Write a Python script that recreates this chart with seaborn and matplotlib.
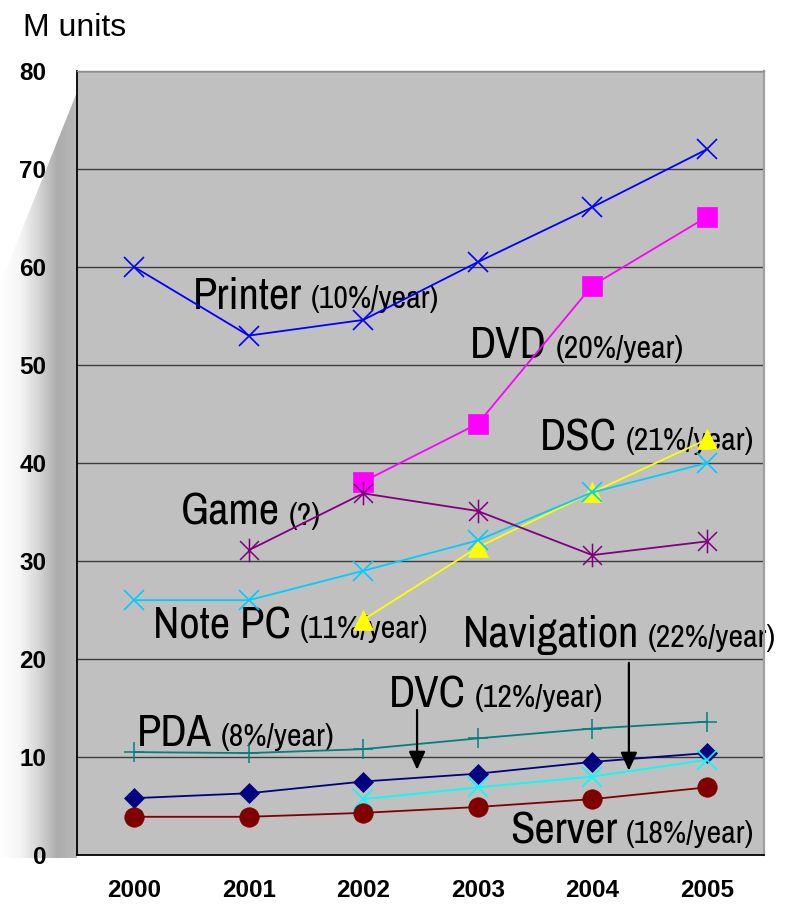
import numpy as np
import pandas as pd
import matplotlib
matplotlib.use("Agg")
import matplotlib.pyplot as plt
import seaborn as sns
from matplotlib.path import Path
from matplotlib.patches import Polygon
from matplotlib.colors import LinearSegmentedColormap
from matplotlib.transforms import offset_copy

# ---- data (million units shipped per year) ----
years = [2000, 2001, 2002, 2003, 2004, 2005]
printer = [60.0, 53.0, 54.6, 60.5, 66.1, 72.0]
dvd = [np.nan, np.nan, 38.1, 44.0, 58.1, 65.1]
dsc = [np.nan, np.nan, 24.0, 31.4, 37.0, 42.4]
note_pc = [26.0, 26.0, 29.0, 32.1, 37.0, 40.0]
game = [np.nan, 31.1, 36.9, 35.1, 30.6, 32.0]
pda = [10.5, 10.4, 10.8, 11.9, 12.9, 13.6]
dvc = [5.8, 6.3, 7.5, 8.3, 9.5, 10.4]
navigation = [np.nan, np.nan, 5.7, 6.9, 8.0, 9.7]
server = [3.9, 3.9, 4.3, 4.9, 5.7, 6.9]

y_ticks = [0, 10, 20, 30, 40, 50, 60, 70, 80]
y_unit = "M units"

sns.set_theme(style="white")
plt.rcParams["font.family"] = ["Liberation Sans", "DejaVu Sans"]
for key in ("text.color", "axes.labelcolor", "xtick.color", "ytick.color"):
    plt.rcParams[key] = "black"

W, H, DPI = 792, 906, 100
fig = plt.figure(figsize=(W / DPI, H / DPI), dpi=DPI, facecolor="white")

# shaded side wall to the left of the value axis
bg = fig.add_axes([0, 0, 1, 1], zorder=-1)
bg.set_xlim(0, W)
bg.set_ylim(H, 0)
bg.axis("off")
wall_cmap = LinearSegmentedColormap.from_list("wall", ["#ffffff", "#f6f6f6", "#d6d6d6", "#acacac", "#bababa"])
grad = np.linspace(0, 1, 256).reshape(1, -1)
im = bg.imshow(grad, cmap=wall_cmap, extent=(0, 77, 858, 92), aspect="auto", interpolation="bilinear")
wall = Polygon([(77, 92), (0, 285), (0, 858), (77, 858)], closed=True, transform=bg.transData)
im.set_clip_path(wall)

ax = fig.add_axes([77 / W, 51 / H, 687 / W, 784 / H], zorder=1)
ax.set_facecolor("#c0c0c0")

# asterisk marker: an X with a vertical bar
asterisk = Path([(-1, -1), (1, 1), (-1, 1), (1, -1), (0, -1.25), (0, 1.25)],
                [Path.MOVETO, Path.LINETO, Path.MOVETO, Path.LINETO, Path.MOVETO, Path.LINETO])

series = [
    (printer, "#0000ff", "x", 14, 1.2),
    (dvd, "#ff00ff", "s", 14, 0.5),
    (dsc, "#ffff00", "^", 14, 0.5),
    (note_pc, "#00ccff", "x", 14, 1.2),
    (game, "#800080", asterisk, 17, 1.1),
    (pda, "#008080", "+", 15, 1.1),
    (dvc, "#000080", "D", 10, 0.5),
    (navigation, "#00ffff", "x", 14, 1.2),
    (server, "#800000", "o", 14, 0.5),
]

for vals, color, marker, ms, mew in series:
    df = pd.DataFrame({"year": years, "value": vals}).dropna()
    sns.lineplot(data=df, x="year", y="value", ax=ax, color=color, marker=marker,
                 markersize=ms, markeredgecolor=color, markerfacecolor=color,
                 markeredgewidth=mew, linewidth=1.3, zorder=3)

ax.set_xlim(1999.5, 2005.5)
ax.set_ylim(0, 80)
ax.set_xlabel("")
ax.set_ylabel("")

ax.set_yticks(y_ticks)
ax.set_yticklabels([str(v) for v in y_ticks], fontsize=17.5, fontweight="bold")
ax.set_xticks(years)
ax.set_xticklabels([str(y) for y in years], fontsize=17.5, fontweight="bold")
ax.set_xticks([1999.5 + k for k in range(1, 6)], minor=True)
ax.tick_params(axis="x", which="major", length=0, pad=17, colors="black")
ax.tick_params(axis="x", which="minor", direction="in", length=7, width=1, color="black")
ax.tick_params(axis="y", which="major", direction="in", length=7, width=1, pad=22, color="black")

ax.grid(axis="y", color="#3c3c3c", linewidth=1.0)
ax.grid(axis="x", visible=False)
ax.set_axisbelow(True)

for side in ("left", "bottom"):
    ax.spines[side].set_color("black")
    ax.spines[side].set_linewidth(1.3)
ax.spines["top"].set_color("#8c8c8c")
ax.spines["top"].set_linewidth(1.0)
ax.spines["right"].set_color("#a0a0a0")
ax.spines["right"].set_linewidth(1.6)

fig.text(23 / W, 1 - 36 / H, y_unit, fontsize=23, ha="left", va="baseline", color="black")

# series labels: large name followed by a smaller growth rate
label_font = ["Archivo Narrow", "Liberation Sans"]
labels = [
    (2000.51, 55.8, "Printer", "(10%/year)"),
    (2002.93, 50.7, "DVD", "(20%/year)"),
    (2003.54, 41.3, "DSC", "(21%/year)"),
    (2000.41, 33.7, "Game", "(?)"),
    (2000.16, 22.1, "Note PC", "(11%/year)"),
    (2002.87, 21.2, "Navigation", "(22%/year)"),
    (2002.22, 15.1, "DVC", "(12%/year)"),
    (2000.02, 11.1, "PDA", "(8%/year)"),
    (2003.28, 1.2, "Server", "(18%/year)"),
]
heads = []
for x, y, name, rate in labels:
    t = ax.text(x, y, name, fontsize=32, family=label_font, ha="left", va="baseline",
                color="black", zorder=2)
    heads.append((t, x, y, rate))

# arrows pointing at the DVC and Navigation lines
arrow_style = dict(arrowstyle="-|>,head_length=0.55,head_width=0.25", mutation_scale=20,
                   lw=1.6, color="black", shrinkA=0, shrinkB=0)
ax.annotate("", xy=(2002.47, 8.7), xytext=(2002.47, 14.8), arrowprops=arrow_style, zorder=4)
ax.annotate("", xy=(2004.32, 8.6), xytext=(2004.32, 19.6), arrowprops=arrow_style, zorder=4)

fig.canvas.draw()
renderer = fig.canvas.get_renderer()
for t, x, y, rate in heads:
    w = t.get_window_extent(renderer).width
    tr = offset_copy(ax.transData, fig=fig, x=w + 9, y=0, units="dots")
    ax.text(x, y, rate, fontsize=23, family=label_font, ha="left", va="baseline",
            color="black", transform=tr, zorder=2, clip_on=False)

fig.savefig("out.png", dpi=DPI, facecolor="white")
